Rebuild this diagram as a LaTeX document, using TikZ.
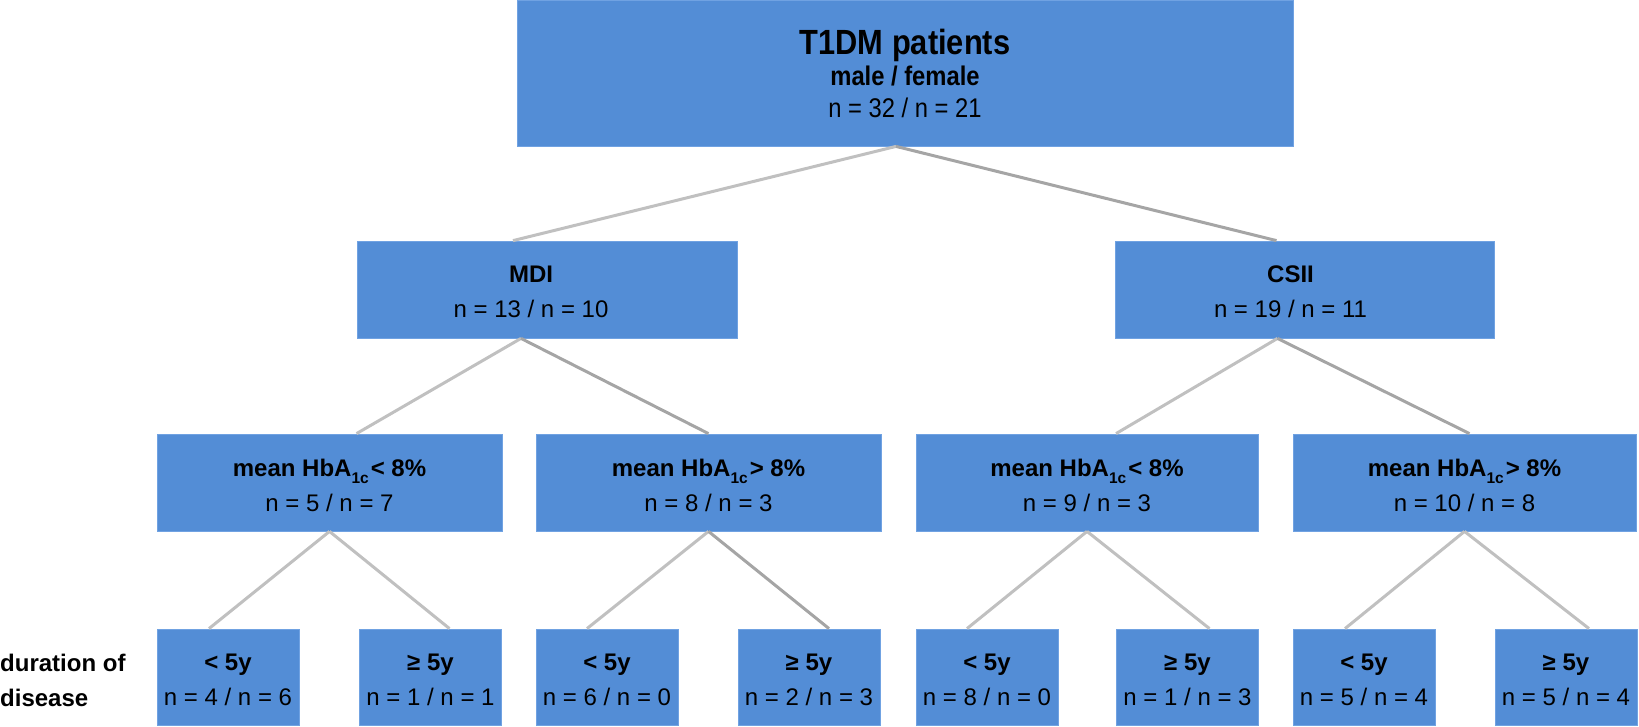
\documentclass[tikz,border=0pt]{standalone}
\usepackage{fontspec}
\setmainfont{Liberation Sans}
\newfontfamily\narrowfont{Liberation Sans}[FakeStretch=0.88]
\definecolor{boxblue}{RGB}{83,141,214}
\definecolor{boxedge}{RGB}{112,162,226}
\definecolor{lightline}{RGB}{192,192,192}
\definecolor{darkline}{RGB}{165,165,165}
\newcommand{\hbsub}[1]{\raisebox{-0.3em}{\fontsize{15.5}{15.5}\selectfont #1}}
\begin{document}
\begin{tikzpicture}[x=1pt,y=-1pt,
  box/.style={rectangle, fill=boxblue, draw=boxedge, line width=0.8pt, inner sep=0pt, align=center,
    font=\fontsize{24}{35}\selectfont},
  txt/.style={inner sep=0pt, align=center, font=\fontsize{24}{35}\selectfont},
  toptxt/.style={inner sep=0pt, anchor=base},
  lconn/.style={draw=lightline, line width=3pt},
  dconn/.style={draw=darkline, line width=3pt}]
\useasboundingbox (0,0) rectangle (1639,726);

% level 1
\node[box, minimum width=776pt, minimum height=146pt] (top) at (905,73) {};
\node[toptxt, font=\narrowfont\fontsize{35}{35}\selectfont\bfseries] (topa) at (905,54) {T1DM patients};
\node[toptxt, font=\narrowfont\fontsize{27}{27}\selectfont\bfseries] (topb) at (905,85) {male / female};
\node[toptxt, font=\narrowfont\fontsize{27}{27}\selectfont] (topc) at (905,117) {n = 32 / n = 21};

% level 2
\node[box, minimum width=380pt, minimum height=97pt] (mdi) at (547,289.5) {};
\node[txt] (mdit) at ([xshift=-16pt,yshift=-2pt]mdi.center) {\bfseries MDI\\ n = 13 / n = 10};
\node[box, minimum width=379pt, minimum height=97pt] (csii) at (1304.5,289.5) {};
\node[txt] (csiit) at ([xshift=-14pt,yshift=-2pt]csii.center) {\bfseries CSII\\ n = 19 / n = 11};

% level 3
\node[box, minimum width=345pt, minimum height=97pt] (m1) at (329.5,482.5) {};
\node[txt] (m1t) at ([yshift=-2.5pt]m1.center) {\bfseries mean HbA\hbsub{1c}\hspace{2pt}< 8\%\\ n = 5 / n = 7};
\node[box, minimum width=345pt, minimum height=97pt] (m2) at (708.5,482.5) {};
\node[txt] (m2t) at ([yshift=-2.5pt]m2.center) {\bfseries mean HbA\hbsub{1c}\hspace{2pt}> 8\%\\ n = 8 / n = 3};
\node[box, minimum width=342pt, minimum height=97pt] (c1) at (1087,482.5) {};
\node[txt] (c1t) at ([yshift=-2.5pt]c1.center) {\bfseries mean HbA\hbsub{1c}\hspace{2pt}< 8\%\\ n = 9 / n = 3};
\node[box, minimum width=343pt, minimum height=97pt] (c2) at (1464.5,482.5) {};
\node[txt] (c2t) at ([yshift=-2.5pt]c2.center) {\bfseries mean HbA\hbsub{1c}\hspace{2pt}> 8\%\\ n = 10 / n = 8};

% level 4
\tikzset{leaf/.style={box, minimum width=142pt, minimum height=96pt}}
\node[leaf] (a) at (228,677) {};
\node[leaf] (b) at (430.5,677) {};
\node[leaf] (c) at (607,677) {};
\node[leaf] (d) at (809,677) {};
\node[leaf] (e) at (987,677) {};
\node[leaf] (f) at (1187.5,677) {};
\node[leaf] (g) at (1364,677) {};
\node[leaf] (h) at (1566,677) {};
\node[txt] (at) at ([yshift=-3pt]a.center) {\bfseries < 5y\\ n = 4 / n = 6};
\node[txt] (bt) at ([yshift=-3pt]b.center) {\bfseries ≥ 5y\\ n = 1 / n = 1};
\node[txt] (ct) at ([yshift=-3pt]c.center) {\bfseries < 5y\\ n = 6 / n = 0};
\node[txt] (dt) at ([yshift=-3pt]d.center) {\bfseries ≥ 5y\\ n = 2 / n = 3};
\node[txt] (et) at ([yshift=-3pt]e.center) {\bfseries < 5y\\ n = 8 / n = 0};
\node[txt] (ft) at ([yshift=-3pt]f.center) {\bfseries ≥ 5y\\ n = 1 / n = 3};
\node[txt] (gt) at ([yshift=-3pt]g.center) {\bfseries < 5y\\ n = 5 / n = 4};
\node[txt] (ht) at ([yshift=-3pt]h.center) {\bfseries ≥ 5y\\ n = 5 / n = 4};

% side label
\node[txt, align=left, anchor=west] (dur) at (0,680) {\bfseries duration of\\ \bfseries disease};

% connectors
\draw[lconn] ([xshift=-9pt]top.south) -- ([xshift=-34pt]mdi.north);
\draw[dconn] ([xshift=-9pt]top.south) -- ([xshift=-28pt]csii.north);

\draw[lconn] ([xshift=-26pt]mdi.south) -- ([xshift=27pt]m1.north);
\draw[dconn] ([xshift=-26pt]mdi.south) -- (m2.north);
\draw[lconn] ([xshift=-27pt]csii.south) -- ([xshift=29pt]c1.north);
\draw[dconn] ([xshift=-27pt]csii.south) -- ([xshift=5pt]c2.north);

\draw[lconn] (m1.south) -- ([xshift=-19pt]a.north);
\draw[lconn] (m1.south) -- ([xshift=19pt]b.north);
\draw[lconn] (m2.south) -- ([xshift=-20pt]c.north);
\draw[dconn] (m2.south) -- ([xshift=20pt]d.north);
\draw[lconn] (c1.south) -- ([xshift=-20pt]e.north);
\draw[lconn] (c1.south) -- ([xshift=22pt]f.north);
\draw[lconn] (c2.south) -- ([xshift=-19pt]g.north);
\draw[lconn] (c2.south) -- ([xshift=23pt]h.north);
\end{tikzpicture}
\end{document}
